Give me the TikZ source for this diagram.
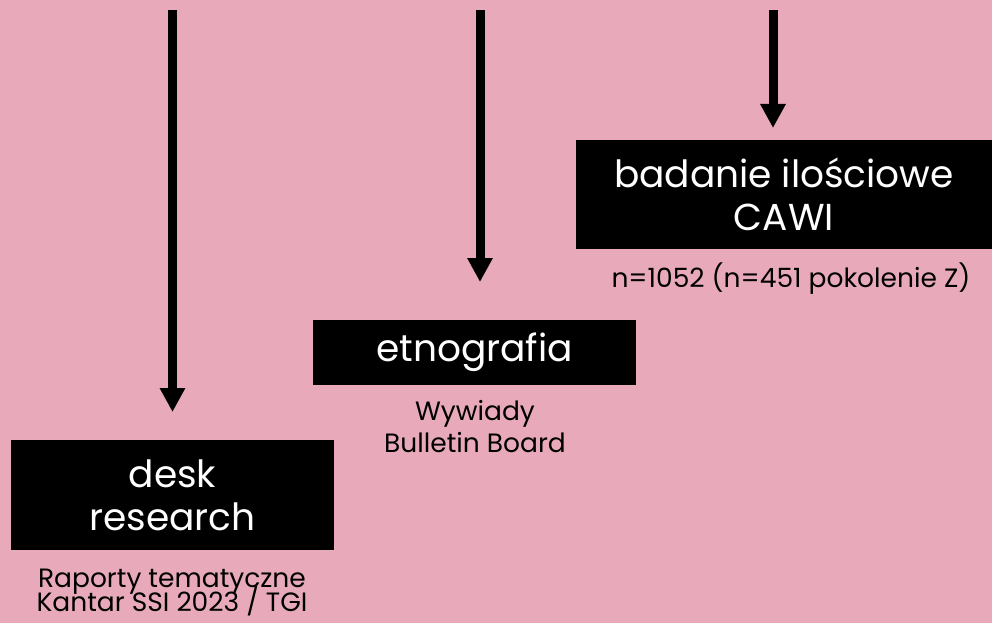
\documentclass[tikz,border=0pt]{standalone}
\usepackage{fontspec}
\setmainfont{Poppins}
\usetikzlibrary{arrows.meta}
\definecolor{rosebg}{HTML}{E8AABA}
\tikzset{
  stage/.style={fill=black, text=white, align=center, inner sep=0pt,
    font=\fontsize{37.5}{43}\selectfont},
  note/.style={align=center, inner sep=0pt, anchor=base, font=\fontsize{26.5}{32}\selectfont},
  flow/.style={line width=9pt, -{Triangle[width=24pt,length=24pt]}}
}
\begin{document}
\begin{tikzpicture}[x=1pt, y=-1pt]
    \fill[rosebg] (0,0) rectangle (992,623);
    \useasboundingbox (0,0) rectangle (992,623);
    % boxes
    \node[stage, minimum width=323pt, minimum height=110pt] (desk) at (172.5,495) {desk\\research};
    \node[stage, minimum width=323pt, minimum height=65pt] (etno) at (474.5,352.5) {etnografia};
    \node[stage, minimum width=416pt, minimum height=109pt] (cawi) at (784,194.5) {badanie ilościowe\\CAWI};
    % notes (base = last line)
    \node[note, font={\fontsize{26.5}{24}\selectfont\lineskiplimit=-50pt\relax}] (desknote) at (172,611) {Raporty tematyczne\\Kantar SSI 2023 / TGI};
    \node[note] (etnonote) at (475,452) {Wywiady\\Bulletin Board};
    \node[note] (cawinote) at (791,287) {n=1052 (n=451 pokolenie Z)};
    % arrows
    \coordinate (desktop) at (172.5,10);
    \coordinate (deskin) at (172.5,412);
    \coordinate (etnotop) at (480,10);
    \coordinate (etnoin) at (480,282);
    \coordinate (cawitop) at (773,10);
    \coordinate (cawiin) at (773,128);
    \draw[flow] (desktop) -- (deskin);
    \draw[flow] (etnotop) -- (etnoin);
    \draw[flow] (cawitop) -- (cawiin);
\end{tikzpicture}
\end{document}
